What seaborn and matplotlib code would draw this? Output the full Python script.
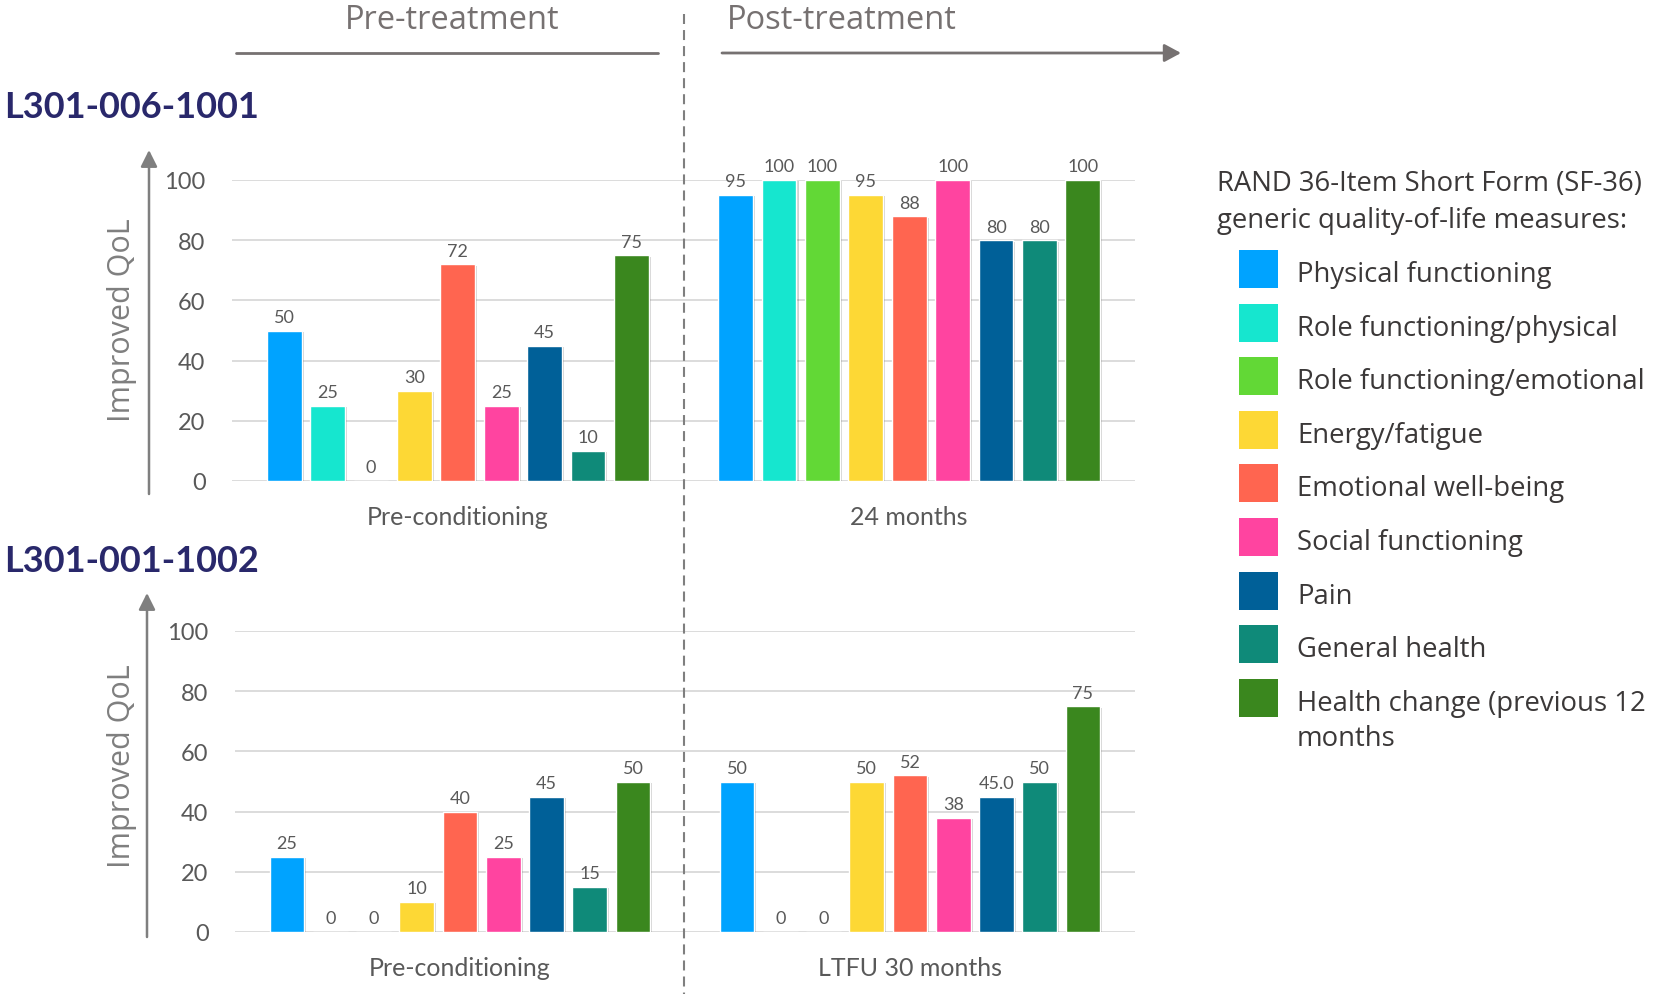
import matplotlib
matplotlib.use("Agg")
import matplotlib.pyplot as plt
import matplotlib.patheffects as pe
from matplotlib.patches import Rectangle, FancyArrowPatch
from matplotlib.lines import Line2D
import seaborn as sns
import pandas as pd

# SF-36 domains and their colours
measures = [
    "Physical functioning",
    "Role functioning/physical",
    "Role functioning/emotional",
    "Energy/fatigue",
    "Emotional well-being",
    "Social functioning",
    "Pain",
    "General health",
    "Health change (previous 12\nmonths",
]
colors = ["#00A3FF", "#16E6CF", "#62D836", "#FDD835", "#FF6550",
          "#FF44A0", "#006098", "#0F8A79", "#3A871E"]

patients = ["L301-006-1001", "L301-001-1002"]
timepoints_1 = ["Pre-conditioning", "24 months"]
timepoints_2 = ["Pre-conditioning", "LTFU 30 months"]

p1_pre = [50, 25, 0, 30, 72, 25, 45, 10, 75]
p1_post = [95, 100, 100, 95, 88, 100, 80, 80, 100]
p2_pre = [25, 0, 0, 10, 40, 25, 45, 15, 50]
p2_post = [50, 0, 0, 50, 52, 38, 45.0, 50, 75]

yticks = [0, 20, 40, 60, 80, 100]

legend_title = ["RAND 36-Item Short Form (SF-36)", "generic quality-of-life measures:"]
y_label = "Improved QoL"
phase_labels = ["Pre-treatment", "Post-treatment"]

sns.set_theme(style="white")
plt.rcParams["font.family"] = ["Lato", "DejaVu Sans"]
SANS = ["Open Sans", "DejaVu Sans"]

W, H = 1658, 995
fig = plt.figure(figsize=(W / 100, H / 100), dpi=100)


def fx(x):
    return x / W


def fy(y):
    return 1 - y / H


GRID = "#d9d9d9"
NUM = "#595959"


def draw_panel(ax, timepoints, pre, post):
    df = pd.DataFrame({
        "timepoint": [timepoints[0]] * len(measures) + [timepoints[1]] * len(measures),
        "measure": measures * 2,
        "score": list(pre) + list(post),
    })
    sns.barplot(data=df, x="timepoint", y="score", hue="measure",
                hue_order=measures, palette=colors, saturation=1,
                width=0.865, gap=0.2, errorbar=None, legend=False, ax=ax)
    for i, cont in enumerate(ax.containers):
        for bar in cont:
            bar.set_path_effects([
                pe.SimplePatchShadow(offset=(1.5, -1), shadow_rgbFace="black", alpha=0.18),
                pe.Normal(),
            ])
        texts = ax.bar_label(cont, labels=[str(pre[i]), str(post[i])],
                             padding=4, fontsize=13, color=NUM)
        for t in texts:
            t.set_annotation_clip(False)
    ax.set_xlim(-0.5, 1.5)
    ax.set_ylim(0, 100)
    ax.set_yticks(yticks)
    ax.grid(axis="y", color=GRID, lw=1.3)
    ax.set_axisbelow(True)
    for s in ax.spines.values():
        s.set_visible(False)
    ax.tick_params(axis="y", length=0, pad=19, labelsize=17, labelcolor=NUM)
    ax.tick_params(axis="x", which="major", length=0, pad=17, labelsize=18, labelcolor=NUM)
    ax.set_xticks([-0.5, 0.5, 1.5], minor=True)
    ax.tick_params(axis="x", which="minor", length=11, direction="inout",
                   color=GRID, width=1.3)
    ax.set_xlabel("")
    ax.set_ylabel("")


ax1 = fig.add_axes([fx(232), fy(482), (1135 - 232) / W, (482 - 181) / H])
draw_panel(ax1, timepoints_1, p1_pre, p1_post)
ax2 = fig.add_axes([fx(235), fy(933), (1135 - 235) / W, (933 - 632) / H])
draw_panel(ax2, timepoints_2, p2_pre, p2_post)

AX_GREY = "#7f7f7f"
HEAD_GREY = "#767171"

# vertical value arrows and y labels
for x0, y_from, y_to, y_mid in [(149, 495, 151, 320), (147, 938, 594, 766)]:
    fig.add_artist(FancyArrowPatch((fx(x0), fy(y_from)), (fx(x0), fy(y_to)),
                                   transform=fig.transFigure,
                                   arrowstyle="-|>,head_length=0.5,head_width=0.25",
                                   mutation_scale=20, color=AX_GREY, lw=1.8,
                                   shrinkA=0, shrinkB=0))
    fig.text(fx(122), fy(y_mid), y_label, rotation=90, ha="center", va="center",
             fontsize=22, color=AX_GREY, family=SANS)

# patient headings
for name, base in zip(patients, [118, 572]):
    fig.text(fx(4), fy(base), name, ha="left", va="baseline", fontsize=26,
             fontweight="bold", color="#29286b")

# treatment phase header
fig.text(fx(452), fy(29), phase_labels[0], ha="center", va="baseline", fontsize=23.5,
         color=HEAD_GREY, family=SANS)
fig.text(fx(727), fy(29), phase_labels[1], ha="left", va="baseline", fontsize=23.5,
         color=HEAD_GREY, family=SANS)
fig.add_artist(Line2D([fx(236), fx(658)], [fy(54), fy(54)], color=HEAD_GREY, lw=2.0))
fig.add_artist(FancyArrowPatch((fx(722), fy(54)), (fx(1181), fy(54)),
                               transform=fig.transFigure,
                               arrowstyle="-|>,head_length=0.5,head_width=0.27",
                               mutation_scale=20, color=HEAD_GREY, lw=2.0,
                               shrinkA=0, shrinkB=0))
fig.add_artist(Line2D([fx(684), fx(684)], [fy(15), fy(995)], color=AX_GREY,
                      lw=1.5, linestyle=(0, (4.8, 2.9))))

# legend
LEG = "#3b3838"
LEG_FS = 19.8
fig.text(fx(1217), fy(191), legend_title[0], ha="left", va="baseline", fontsize=LEG_FS,
         color=LEG, family=SANS)
fig.text(fx(1217), fy(228), legend_title[1], ha="left", va="baseline", fontsize=LEG_FS,
         color=LEG, family=SANS)
for i, (m, c) in enumerate(zip(measures, colors)):
    yc = 270 + 53.6 * i
    fig.add_artist(Rectangle((fx(1239), fy(yc + 19)), 39 / W, 38 / H,
                             transform=fig.transFigure, facecolor=c, edgecolor="none"))
    for k, line in enumerate(m.split("\n")):
        fig.text(fx(1297), fy(yc + 12 + 35 * k), line, ha="left", va="baseline",
                 fontsize=LEG_FS, color=LEG, family=SANS)

fig.savefig("out.png", dpi=100)
